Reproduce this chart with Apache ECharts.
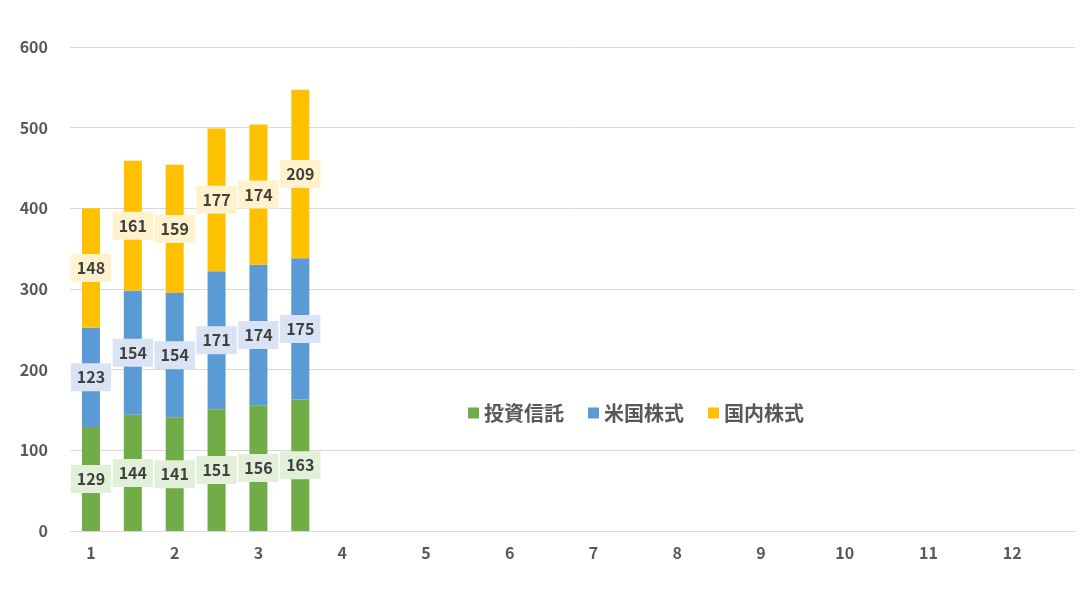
<!DOCTYPE html>
<html><head><meta charset="utf-8">
<script src="https://cdn.jsdelivr.net/npm/echarts@6/dist/echarts.min.js"></script>
<style>html,body{margin:0;padding:0;background:#fff}#c{width:1092px;height:591px}</style>
</head><body><div id="c"></div>
<script>
const categories = ['1','1.5','2','2.5','3','3.5','4','4.5','5','5.5','6','6.5','7','7.5','8','8.5','9','9.5','10','10.5','11','11.5','12','12.5'];
const fund = [129,144,141,151,156,163];
const us = [123,154,154,171,174,175];
const jp = [148,161,159,177,174,209];
const yTicks = [0,100,200,300,400,500,600];
const font = '"Noto Sans CJK JP","Noto Sans",sans-serif';
function mk(name, data, color, bg){
  return {name, type:'bar', stack:'a', data, barWidth:'43%',
    itemStyle:{color},
    label:{show:true, position:'inside', color:'#404040', fontWeight:'bold', fontSize:16, fontFamily:font,
      backgroundColor:bg, padding:[7,6,5,6]}};
}
const chart = echarts.init(document.getElementById('c'));
chart.setOption({
  animation:false,
  grid:{left:70,right:17,top:47,bottom:60},
  legend:{left:463,top:398,itemWidth:11,itemHeight:11,itemGap:24,icon:'rect',
    textStyle:{fontSize:20,fontWeight:'bold',color:'#595959',fontFamily:font}},
  xAxis:{type:'category',data:categories,
    axisLine:{lineStyle:{color:'#d9d9d9'}},axisTick:{show:false},
    axisLabel:{color:'#595959',fontSize:16,fontWeight:'bold',fontFamily:font,margin:14}},
  yAxis:{type:'value',min:0,max:600,interval:100,
    axisLabel:{color:'#595959',fontSize:16,fontWeight:'bold',fontFamily:font,margin:22,
      formatter:v=>yTicks.includes(v)?String(v):''},
    splitLine:{lineStyle:{color:'#d9d9d9'}}},
  series:[mk('投資信託',fund,'#70ad47','#e2efd9'),mk('米国株式',us,'#5b9bd5','#dae3f3'),mk('国内株式',jp,'#ffc000','#fff2cc')]
});
</script></body></html>
